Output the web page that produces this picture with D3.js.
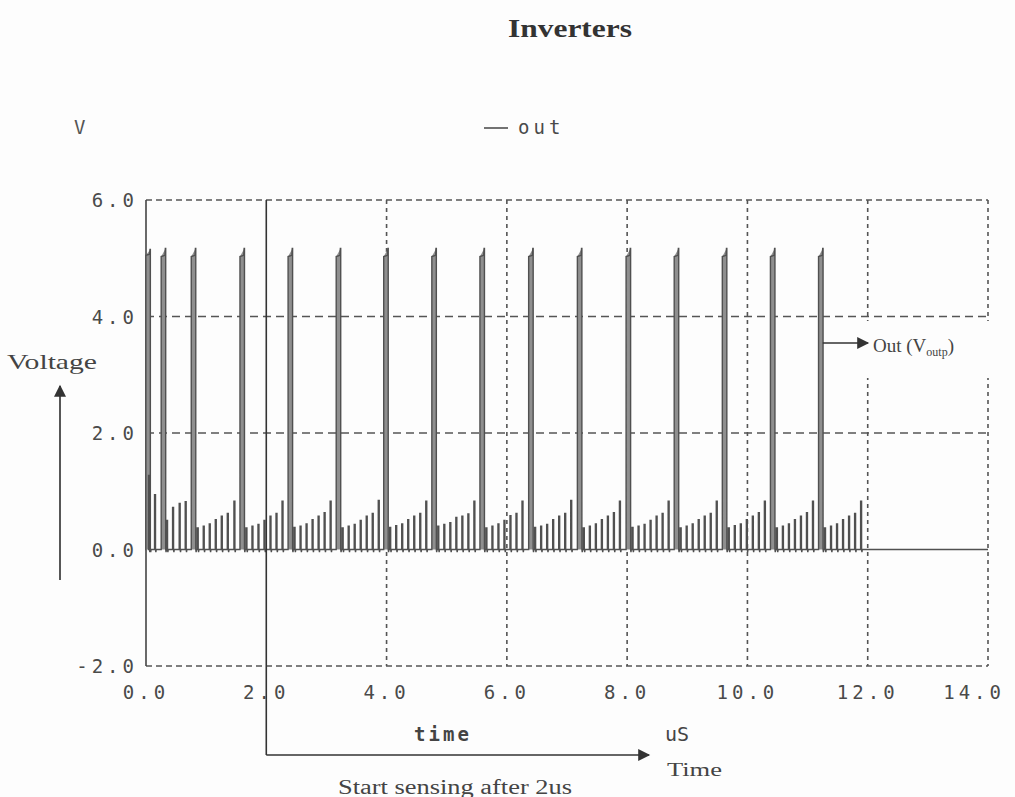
<!DOCTYPE html>
<html><head><meta charset="utf-8">
<script src="https://cdn.jsdelivr.net/npm/d3@7"></script>
<style>body{margin:0;background:#fff}</style>
</head><body><svg id="c" width="1015" height="797"></svg>
<script>
// ---------- data ----------
const chartTitle = "Inverters";
const seriesName = "out";
const xTicks = [0, 2, 4, 6, 8, 10, 12, 14];
const xTickLabels = ["0.0", "2.0", "4.0", "6.0", "8.0", "10.0", "12.0", "14.0"];
const yTicks = [-2, 0, 2, 4, 6];
const yTickLabels = ["-2.0", "0.0", "2.0", "4.0", "6.0"];
const hGrid = [2, 4];
const vGrid = [4, 6, 8, 10, 12];
const sensingStart = 2;

// large output pulses (us): centre time, level at rise, peak level
const bigSpikeTimes = [0.035, 0.29, 0.79, 1.60, 2.40, 3.20, 3.99, 4.79, 5.59, 6.40, 7.21, 8.02, 8.82, 9.62, 10.42, 11.22];
const bigSpikeRise  = [5.05, 5.03, 5.03, 5.03, 5.03, 5.03, 5.03, 5.03, 5.03, 5.03, 5.03, 5.03, 5.03, 5.03, 5.03, 5.03];
const bigSpikePeak  = [5.15, 5.17, 5.17, 5.17, 5.17, 5.17, 5.17, 5.17, 5.17, 5.17, 5.17, 5.17, 5.17, 5.17, 5.17, 5.17];

// small glitches between pulses (us, V)
const smallSpikeTimes = [
  0.05, 0.15,
  0.35, 0.45, 0.56, 0.66,
  0.86, 0.96, 1.06, 1.16, 1.26, 1.36, 1.47,
  1.67, 1.77, 1.87, 1.97, 2.07, 2.17, 2.27,
  2.47, 2.57, 2.67, 2.77, 2.87, 2.97, 3.07,
  3.27, 3.37, 3.47, 3.57, 3.67, 3.77, 3.87,
  4.06, 4.16, 4.26, 4.36, 4.46, 4.56, 4.66,
  4.86, 4.96, 5.06, 5.16, 5.26, 5.36, 5.46,
  5.66, 5.76, 5.86, 5.96, 6.06, 6.16, 6.26,
  6.47, 6.57, 6.67, 6.77, 6.87, 6.97, 7.07,
  7.28, 7.38, 7.48, 7.58, 7.68, 7.78, 7.88,
  8.09, 8.19, 8.29, 8.39, 8.49, 8.59, 8.69,
  8.89, 8.99, 9.09, 9.19, 9.29, 9.39, 9.49,
  9.69, 9.79, 9.89, 9.99, 10.09, 10.19, 10.29,
  10.49, 10.59, 10.69, 10.79, 10.89, 10.99, 11.09,
  11.29, 11.39, 11.49, 11.59, 11.69, 11.79, 11.89
];
const smallSpikeVolts = [
  1.27, 0.94,
  0.50, 0.72, 0.79, 0.82,
  0.37, 0.40, 0.44, 0.51, 0.57, 0.62, 0.83,
  0.37, 0.40, 0.43, 0.50, 0.57, 0.62, 0.83,
  0.38, 0.40, 0.44, 0.51, 0.57, 0.63, 0.83,
  0.37, 0.40, 0.43, 0.50, 0.57, 0.62, 0.84,
  0.38, 0.41, 0.44, 0.51, 0.57, 0.62, 0.83,
  0.40, 0.43, 0.46, 0.55, 0.57, 0.61, 0.83,
  0.37, 0.40, 0.44, 0.50, 0.58, 0.62, 0.83,
  0.38, 0.40, 0.43, 0.51, 0.57, 0.62, 0.84,
  0.37, 0.40, 0.44, 0.51, 0.57, 0.63, 0.83,
  0.38, 0.40, 0.43, 0.50, 0.57, 0.62, 0.83,
  0.37, 0.40, 0.44, 0.51, 0.57, 0.62, 0.83,
  0.37, 0.41, 0.44, 0.51, 0.57, 0.63, 0.83,
  0.37, 0.40, 0.44, 0.51, 0.57, 0.63, 0.83,
  0.37, 0.40, 0.44, 0.51, 0.57, 0.62, 0.83
];
const traceEnd = 14;

// ---------- drawing ----------
const svg = d3.select("#c");
svg.append("rect").attr("width", 1015).attr("height", 797).attr("fill", "#fdfdfd");

const x = d3.scaleLinear().domain([0, 14]).range([146, 988]);
const y = d3.scaleLinear().domain([-2, 6]).range([666, 200]);

const defs = svg.append("defs");
defs.append("marker").attr("id", "arrBig").attr("viewBox", "0 0 10 10")
  .attr("refX", 9).attr("refY", 5).attr("markerWidth", 16).attr("markerHeight", 12)
  .attr("markerUnits", "userSpaceOnUse").attr("orient", "auto")
  .append("path").attr("d", "M0,0 L10,5 L0,10 Z").attr("fill", "#333");

const grid = svg.append("g").attr("stroke", "#555").attr("fill", "none");
grid.selectAll("line.h").data(hGrid).join("line")
  .attr("x1", x(0)).attr("x2", x(14)).attr("y1", d => y(d)).attr("y2", d => y(d))
  .attr("stroke-width", 1.3).attr("stroke-dasharray", "8,5");
grid.selectAll("line.v").data(vGrid).join("line")
  .attr("y1", y(6)).attr("y2", y(-2)).attr("x1", d => x(d)).attr("x2", d => x(d))
  .attr("stroke-width", 1.6).attr("stroke-dasharray", "4,4");
grid.append("line").attr("x1", x(0)).attr("x2", x(14)).attr("y1", y(6)).attr("y2", y(6))
  .attr("stroke-width", 1.3).attr("stroke-dasharray", "6,4");
grid.append("line").attr("x1", x(0)).attr("x2", x(14)).attr("y1", y(-2)).attr("y2", y(-2))
  .attr("stroke-width", 1.3).attr("stroke-dasharray", "6,4");
grid.append("line").attr("x1", x(14)).attr("x2", x(14)).attr("y1", y(6)).attr("y2", y(-2))
  .attr("stroke-width", 1.6).attr("stroke-dasharray", "4,4");
grid.append("line").attr("x1", x(0)).attr("x2", x(0)).attr("y1", y(6)).attr("y2", y(-2))
  .attr("stroke", "#444").attr("stroke-width", 1.6);

// white box behind right-hand label
svg.append("rect").attr("x", 862).attr("y", 321).attr("width", 140).attr("height", 57).attr("fill", "#fdfdfd");

// waveform points
const events = [];
bigSpikeTimes.forEach((t, i) => events.push({t, big: true, r: bigSpikeRise[i], p: bigSpikePeak[i]}));
smallSpikeTimes.forEach((t, i) => events.push({t, big: false, v: smallSpikeVolts[i]}));
events.sort((a, b) => a.t - b.t);
const pts = [[0, 0]];
const bw = 0.075, sw = 0.016;
events.forEach(e => {
  if (e.big) {
    const a = e.t - bw / 2, b = e.t + bw / 2;
    pts.push([a, 0], [a, e.r], [b - 0.012, e.r + 0.02], [b - 0.006, e.p], [b, e.p], [b, 0], [b + 0.006, -0.045], [b + 0.012, 0]);
  } else {
    const a = e.t - sw / 2, b = e.t + sw / 2;
    pts.push([a, 0], [a, e.v], [b, e.v], [b, 0], [b + 0.006, -0.045], [b + 0.012, 0]);
  }
});
pts.push([traceEnd, 0]);

const line = d3.line().x(d => x(d[0])).y(d => y(d[1]));
svg.append("g").selectAll("path").data(bigSpikeTimes).join("path")
  .attr("d", (t, i) => line([[t - bw / 2, 0], [t - bw / 2, bigSpikeRise[i]], [t + bw / 2, bigSpikePeak[i]], [t + bw / 2, 0]]))
  .attr("fill", "#8f8f8f").attr("stroke", "none");
svg.append("path").attr("d", line(pts)).attr("fill", "none")
  .attr("stroke", "#505050").attr("stroke-width", 1.4).attr("stroke-linejoin", "miter");

// sensing marker
svg.append("line").attr("x1", x(sensingStart)).attr("x2", x(sensingStart)).attr("y1", y(6)).attr("y2", 755)
  .attr("stroke", "#333").attr("stroke-width", 1.6);
svg.append("line").attr("x1", x(sensingStart)).attr("x2", 649).attr("y1", 755).attr("y2", 755)
  .attr("stroke", "#333").attr("stroke-width", 1.6).attr("marker-end", "url(#arrBig)");

// tick labels
const mono = "'DejaVu Sans Mono', 'Liberation Mono', monospace";
const serif = "'Liberation Serif', 'DejaVu Serif', serif";
svg.append("g").selectAll("text").data(yTicks).join("text")
  .attr("x", 138).attr("y", d => y(d) + 7).attr("text-anchor", "end")
  .attr("font-family", mono).attr("font-size", 19).attr("letter-spacing", 4).attr("fill", "#4a4a4a")
  .text((d, i) => yTickLabels[i]);
const xl = svg.append("g").selectAll("text").data(xTicks).join("text")
  .attr("x", d => x(d)).attr("y", 699).attr("text-anchor", "middle")
  .attr("font-family", mono).attr("font-size", 19).attr("letter-spacing", 4).attr("fill", "#4a4a4a")
  .text((d, i) => xTickLabels[i]);
xl.each(function (d) {
  const w = this.getComputedTextLength();
  if (x(d) + w / 2 > 1003) d3.select(this).attr("text-anchor", "end").attr("x", 1005);
});

// titles and labels
svg.append("text").attr("x", 570).attr("y", 37).attr("text-anchor", "middle")
  .attr("font-family", serif).attr("font-weight", "bold").attr("font-size", 25).attr("fill", "#333")
  .attr("textLength", 124).attr("lengthAdjust", "spacingAndGlyphs").text(chartTitle);
svg.append("text").attr("x", 74).attr("y", 134).attr("font-family", mono).attr("font-size", 19)
  .attr("fill", "#555").text("V");
svg.append("line").attr("x1", 484).attr("x2", 508).attr("y1", 128).attr("y2", 128)
  .attr("stroke", "#444").attr("stroke-width", 1.5);
svg.append("text").attr("x", 518).attr("y", 134).attr("font-family", mono).attr("font-size", 19)
  .attr("letter-spacing", 4).attr("fill", "#4a4a4a").text(seriesName);
svg.append("text").attr("x", 443).attr("y", 741).attr("text-anchor", "middle").attr("font-family", mono)
  .attr("font-size", 19).attr("font-weight", "bold").attr("letter-spacing", 3).attr("fill", "#444").text("time");
svg.append("text").attr("x", 665).attr("y", 741).attr("font-family", mono).attr("font-size", 20)
  .attr("fill", "#444").text("uS");
svg.append("text").attr("x", 667).attr("y", 776).attr("font-family", serif).attr("font-size", 19)
  .attr("fill", "#444").attr("textLength", 55).attr("lengthAdjust", "spacingAndGlyphs").text("Time");
svg.append("text").attr("x", 338).attr("y", 794).attr("font-family", serif).attr("font-size", 20)
  .attr("fill", "#444").attr("textLength", 234).attr("lengthAdjust", "spacingAndGlyphs").text("Start sensing after 2us");
svg.append("text").attr("x", 7).attr("y", 369).attr("font-family", serif).attr("font-size", 21)
  .attr("fill", "#444").attr("textLength", 90).attr("lengthAdjust", "spacingAndGlyphs").text("Voltage");
svg.append("line").attr("x1", 60).attr("x2", 60).attr("y1", 580).attr("y2", 386)
  .attr("stroke", "#444").attr("stroke-width", 1.8).attr("marker-end", "url(#arrBig)");

// output label
svg.append("line").attr("x1", x(bigSpikeTimes[15]) + 2).attr("x2", 868).attr("y1", 343).attr("y2", 343)
  .attr("stroke", "#333").attr("stroke-width", 1.6).attr("marker-end", "url(#arrBig)");
const ol = svg.append("text").attr("x", 873).attr("y", 352).attr("font-family", serif).attr("font-size", 19).attr("fill", "#444");
ol.append("tspan").text("Out (V");
ol.append("tspan").attr("font-size", 12).attr("dy", 4).text("outp");
ol.append("tspan").attr("dy", -4).text(")");
</script></body></html>
